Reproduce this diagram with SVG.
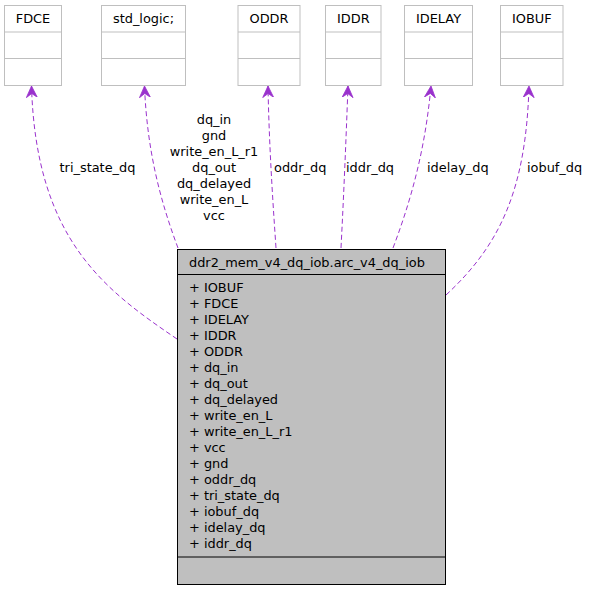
<svg xmlns="http://www.w3.org/2000/svg" width="591" height="592" viewBox="0 0 591 592">
<style>
text{font-family:"DejaVu Sans","Liberation Sans",sans-serif;font-size:12.9px;fill:#000}
.c{text-anchor:middle}
.box{fill:#fff;stroke:#bfbfbf;stroke-width:1}
.main{fill:#bfbfbf;stroke:#000;stroke-width:1}
.e{fill:none;stroke:#9a32cd;stroke-width:1;stroke-dasharray:5,3}
</style>
<defs>
<marker id="ah" viewBox="0 0 12 12" refX="11.5" refY="6" markerWidth="12" markerHeight="12" markerUnits="userSpaceOnUse" orient="auto">
<path d="M0,0.5 L11.5,6 L0,11.5 L4,6 Z" fill="#9a32cd" stroke="#9a32cd" stroke-width="0.8" stroke-linejoin="round"/>
</marker>
</defs>
<rect width="591" height="592" fill="#fff"/>
<g id="FDCE">
<rect class="box" x="4.5" y="5.5" width="57" height="80"/>
<line class="box" x1="4.5" y1="32" x2="61.5" y2="32"/>
<line class="box" x1="4.5" y1="58.5" x2="61.5" y2="58.5"/>
<text class="c" x="33" y="23">FDCE</text>
</g>
<g id="std_logic">
<rect class="box" x="101.5" y="5.5" width="84" height="80"/>
<line class="box" x1="101.5" y1="32" x2="185.5" y2="32"/>
<line class="box" x1="101.5" y1="58.5" x2="185.5" y2="58.5"/>
<text class="c" x="143.5" y="23">std_logic;</text>
</g>
<g id="ODDR">
<rect class="box" x="238" y="5.5" width="62" height="80"/>
<line class="box" x1="238" y1="32" x2="300" y2="32"/>
<line class="box" x1="238" y1="58.5" x2="300" y2="58.5"/>
<text class="c" x="269" y="23">ODDR</text>
</g>
<g id="IDDR">
<rect class="box" x="325.5" y="5.5" width="55.5" height="80"/>
<line class="box" x1="325.5" y1="32" x2="381" y2="32"/>
<line class="box" x1="325.5" y1="58.5" x2="381" y2="58.5"/>
<text class="c" x="353.3" y="23">IDDR</text>
</g>
<g id="IDELAY">
<rect class="box" x="404.5" y="5.5" width="68" height="80"/>
<line class="box" x1="404.5" y1="32" x2="472.5" y2="32"/>
<line class="box" x1="404.5" y1="58.5" x2="472.5" y2="58.5"/>
<text class="c" x="438.5" y="23">IDELAY</text>
</g>
<g id="IOBUF">
<rect class="box" x="500.5" y="5.5" width="62.5" height="80"/>
<line class="box" x1="500.5" y1="32" x2="563" y2="32"/>
<line class="box" x1="500.5" y1="58.5" x2="563" y2="58.5"/>
<text class="c" x="531.8" y="23">IOBUF</text>
</g>
<g id="connectors">
<path class="e" marker-end="url(#ah)" d="M177,339 C105,290 36,240 31.5,86"/>
<path class="e" marker-end="url(#ah)" d="M178,248 C160,200 147,150 144.5,86"/>
<path class="e" marker-end="url(#ah)" d="M276,248 C272,190 269,140 268,86"/>
<path class="e" marker-end="url(#ah)" d="M341,248 C344,190 346,140 348,86"/>
<path class="e" marker-end="url(#ah)" d="M393,248 C415,190 426,140 431,86"/>
<path class="e" marker-end="url(#ah)" d="M446,295 C500,245 526,190 529,86"/>
<text class="c" x="97.5" y="171.5">tri_state_dq</text>
<text class="c" x="214" y="123.5">dq_in</text>
<text class="c" x="214" y="139.5">gnd</text>
<text class="c" x="214" y="155.5">write_en_L_r1</text>
<text class="c" x="214" y="171.5">dq_out</text>
<text class="c" x="214" y="187.5">dq_delayed</text>
<text class="c" x="214" y="203.5">write_en_L</text>
<text class="c" x="214" y="219.5">vcc</text>
<text x="274" y="171.5">oddr_dq</text>
<text x="346" y="171.5">iddr_dq</text>
<text x="427" y="171.5">idelay_dq</text>
<text x="527" y="171.5">iobuf_dq</text>
</g>
<g id="arc_v4_dq_iob">
<rect class="main" x="177.5" y="249.5" width="268" height="335"/>
<line class="main" x1="177.5" y1="274.5" x2="445.5" y2="274.5"/>
<line class="main" x1="177.5" y1="557" x2="445.5" y2="557"/>
<text x="189" y="267">ddr2_mem_v4_dq_iob.arc_v4_dq_iob</text>
<text x="189" y="292">+ IOBUF</text>
<text x="189" y="308">+ FDCE</text>
<text x="189" y="324">+ IDELAY</text>
<text x="189" y="340">+ IDDR</text>
<text x="189" y="356">+ ODDR</text>
<text x="189" y="372">+ dq_in</text>
<text x="189" y="388">+ dq_out</text>
<text x="189" y="404">+ dq_delayed</text>
<text x="189" y="420">+ write_en_L</text>
<text x="189" y="436">+ write_en_L_r1</text>
<text x="189" y="452">+ vcc</text>
<text x="189" y="468">+ gnd</text>
<text x="189" y="484">+ oddr_dq</text>
<text x="189" y="500">+ tri_state_dq</text>
<text x="189" y="516">+ iobuf_dq</text>
<text x="189" y="532">+ idelay_dq</text>
<text x="189" y="548">+ iddr_dq</text>
</g>
</svg>
